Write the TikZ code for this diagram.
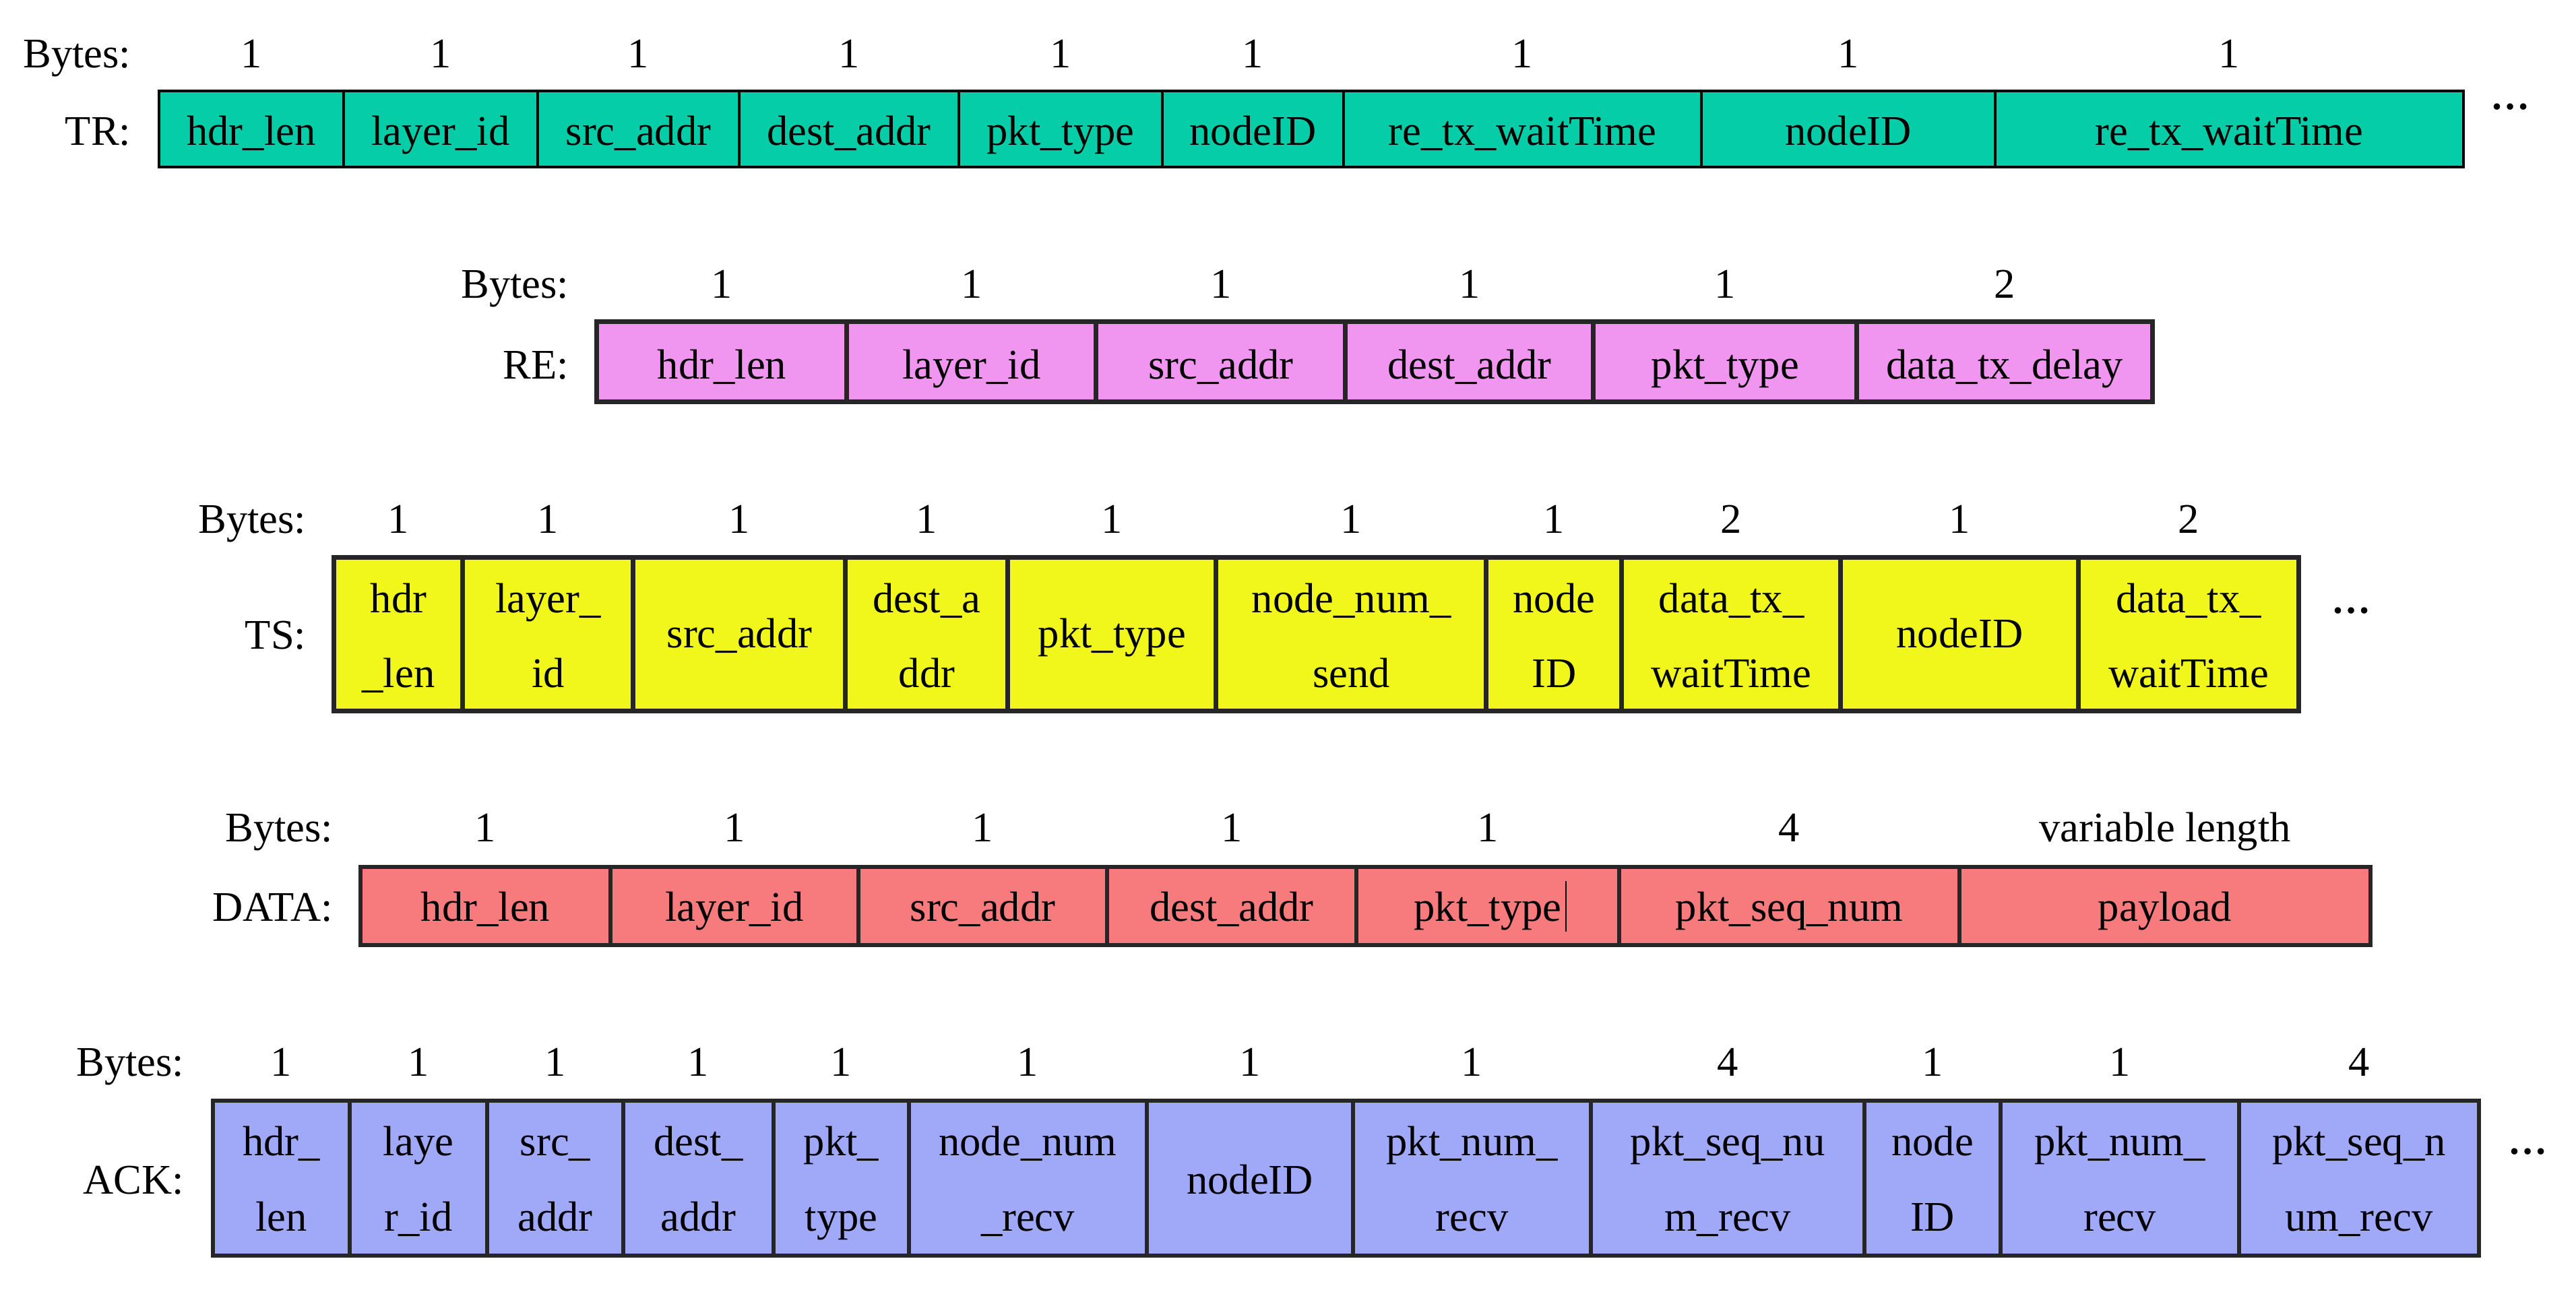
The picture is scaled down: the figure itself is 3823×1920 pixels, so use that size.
\documentclass[tikz,border=0pt]{standalone}
\usepackage{fontspec}
\setmainfont{Liberation Serif}
\definecolor{trfill}{RGB}{4,205,168}
\definecolor{refill}{RGB}{240,150,240}
\definecolor{tsfill}{RGB}{242,247,27}
\definecolor{dafill}{RGB}{247,123,125}
\definecolor{ackfill}{RGB}{160,168,248}
\definecolor{edge}{RGB}{38,38,38}
\tikzset{
  cellbase/.style={rectangle, inner sep=0pt, outer sep=0pt},
  trcell/.style={cellbase, draw=black, line width=0.04cm, fill=trfill},
  recell/.style={cellbase, draw=edge, line width=0.07cm, fill=refill},
  tscell/.style={cellbase, draw=edge, line width=0.07cm, fill=tsfill},
  dacell/.style={cellbase, draw=edge, line width=0.065cm, fill=dafill},
  ackcell/.style={cellbase, draw=edge, line width=0.065cm, fill=ackfill},
  txt/.style={anchor=base, inner sep=0pt, font=\fontsize{17.8}{20}\selectfont},
  lbl/.style={txt, anchor=base east},
  dots/.style={anchor=base west, inner sep=0pt, font=\fontsize{16.5}{20}\selectfont\bfseries}
}
\newcommand\pktcell[6]{% style, name, x1, x2, y1, y2
  \node[#1, minimum width={(#4-#3)*0.284528pt}, minimum height={(#6-#5)*0.284528pt}] (#2) at ({(#3+#4)/2},{(#5+#6)/2}) {};}
\begin{document}
\begin{tikzpicture}[x=0.01cm, y=-0.01cm]
\useasboundingbox (0,0) rectangle (3823,1920);
\fill[white] (0,0) rectangle (3823,1920);

% ---------------- TR ----------------
\node[lbl] (trbytes) at (195,100) {Bytes:};
\node[lbl] (trname) at (195,215) {TR:};
\foreach \xa/\xb/\t [count=\i] in {236/510/{hdr\_len}, 510/798/{layer\_id}, 798/1097/{src\_addr}, 1097/1423/{dest\_addr}, 1423/1725/{pkt\_type}, 1725/1994/{nodeID}, 1994/2525/{re\_tx\_waitTime}, 2525/2961/{nodeID}, 2961/3656/{re\_tx\_waitTime}}{
  \pktcell{trcell}{tr\i}{\xa}{\xb}{135}{248}
  \node[txt] (trt\i) at ({(\xa+\xb)/2},215) {\t};
  \node[txt] (trn\i) at ({(\xa+\xb)/2},100) {1};
}
\node[dots] (trdots) at (3696,162) {…};

% ---------------- RE ----------------
\node[lbl] (rebytes) at (845,442) {Bytes:};
\node[lbl] (rename) at (845,562) {RE:};
\foreach \xa/\xb/\t/\n [count=\i] in {886/1257/{hdr\_len}/1, 1257/1627/{layer\_id}/1, 1627/1997/{src\_addr}/1, 1997/2365/{dest\_addr}/1, 2365/2756/{pkt\_type}/1, 2756/3194/{data\_tx\_delay}/2}{
  \pktcell{recell}{re\i}{\xa}{\xb}{478}{596}
  \node[txt] (ret\i) at ({(\xa+\xb)/2},562) {\t};
  \node[txt] (ren\i) at ({(\xa+\xb)/2},442) {\n};
}

% ---------------- TS ----------------
\node[lbl] (tsbytes) at (455,791) {Bytes:};
\node[lbl] (tsname) at (455,963) {TS:};
\foreach \xa/\xb/\n [count=\i] in {496/687/1, 687/940/1, 940/1255/1, 1255/1496/1, 1496/1805/1, 1805/2206/1, 2206/2407/1, 2407/2732/2, 2732/3085/1, 3085/3411/2}{
  \pktcell{tscell}{ts\i}{\xa}{\xb}{828}{1055}
  \node[txt] (tsn\i) at ({(\xa+\xb)/2},791) {\n};
}
\node[txt] (ts1a) at (591.5,909) {hdr};
\node[txt] (ts1b) at (591.5,1020) {\_len};
\node[txt] (ts2a) at (813.5,909) {layer\_};
\node[txt] (ts2b) at (813.5,1020) {id};
\node[txt] (ts3) at (1097.5,961) {src\_addr};
\node[txt] (ts4a) at (1375.5,909) {dest\_a};
\node[txt] (ts4b) at (1375.5,1020) {ddr};
\node[txt] (ts5) at (1650.5,961) {pkt\_type};
\node[txt] (ts6a) at (2005.5,909) {node\_num\_};
\node[txt] (ts6b) at (2005.5,1020) {send};
\node[txt] (ts7a) at (2306.5,909) {node};
\node[txt] (ts7b) at (2306.5,1020) {ID};
\node[txt] (ts8a) at (2569.5,909) {data\_tx\_};
\node[txt] (ts8b) at (2569.5,1020) {waitTime};
\node[txt] (ts9) at (2908.5,961) {nodeID};
\node[txt] (ts10a) at (3248,909) {data\_tx\_};
\node[txt] (ts10b) at (3248,1020) {waitTime};
\node[dots] (tsdots) at (3460,910) {…};

% ---------------- DATA ----------------
\node[lbl] (dabytes) at (495,1249) {Bytes:};
\node[lbl] (daname) at (495,1367) {DATA:};
\foreach \xa/\xb/\t/\n [count=\i] in {535/906/{hdr\_len}/1, 906/1274/{layer\_id}/1, 1274/1643/{src\_addr}/1, 1643/2013/{dest\_addr}/1, 2013/2403/{pkt\_type}/1, 2403/2908/{pkt\_seq\_num}/4, 2908/3518/{payload}/{variable length}}{
  \pktcell{dacell}{da\i}{\xa}{\xb}{1287}{1403}
  \node[txt] (dat\i) at ({(\xa+\xb)/2},1367) {\t};
  \node[txt] (dan\i) at ({(\xa+\xb)/2},1249) {\n};
}
\coordinate (cursortop) at (2324,1308);
\coordinate (cursorbot) at (2324,1383);
\draw[line width=0.02cm, black] (cursortop) -- (cursorbot);

% ---------------- ACK ----------------
\node[lbl] (ackbytes) at (274,1597) {Bytes:};
\node[lbl] (ackname) at (274,1772) {ACK:};
\foreach \xa/\xb/\n [count=\i] in {316/519/1, 519/723/1, 723/925/1, 925/1148/1, 1148/1349/1, 1349/1702/1, 1702/2008/1, 2008/2361/1, 2361/2767/4, 2767/2969/1, 2969/3323/1, 3323/3679/4}{
  \pktcell{ackcell}{ack\i}{\xa}{\xb}{1634}{1864}
  \node[txt] (ackn\i) at ({(\xa+\xb)/2},1597) {\n};
}
\node[txt] (ack1a) at (417.5,1715) {hdr\_};
\node[txt] (ack1b) at (417.5,1827) {len};
\node[txt] (ack2a) at (621,1715) {laye};
\node[txt] (ack2b) at (621,1827) {r\_id};
\node[txt] (ack3a) at (824,1715) {src\_};
\node[txt] (ack3b) at (824,1827) {addr};
\node[txt] (ack4a) at (1036.5,1715) {dest\_};
\node[txt] (ack4b) at (1036.5,1827) {addr};
\node[txt] (ack5a) at (1248.5,1715) {pkt\_};
\node[txt] (ack5b) at (1248.5,1827) {type};
\node[txt] (ack6a) at (1525.5,1715) {node\_num};
\node[txt] (ack6b) at (1525.5,1827) {\_recv};
\node[txt] (ack7) at (1855,1772) {nodeID};
\node[txt] (ack8a) at (2184.5,1715) {pkt\_num\_};
\node[txt] (ack8b) at (2184.5,1827) {recv};
\node[txt] (ack9a) at (2564,1715) {pkt\_seq\_nu};
\node[txt] (ack9b) at (2564,1827) {m\_recv};
\node[txt] (ack10a) at (2868,1715) {node};
\node[txt] (ack10b) at (2868,1827) {ID};
\node[txt] (ack11a) at (3146,1715) {pkt\_num\_};
\node[txt] (ack11b) at (3146,1827) {recv};
\node[txt] (ack12a) at (3501,1715) {pkt\_seq\_n};
\node[txt] (ack12b) at (3501,1827) {um\_recv};
\node[dots] (ackdots) at (3722,1713) {…};
\end{tikzpicture}
\end{document}
